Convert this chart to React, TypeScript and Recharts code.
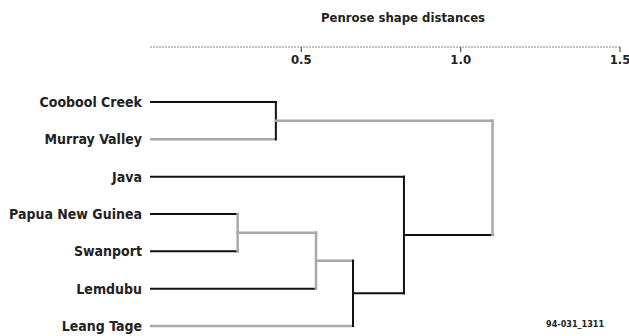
import { LineChart, Line, XAxis, YAxis } from "recharts";

// leaves, top to bottom
const leaves = [
  "Coobool Creek",
  "Murray Valley",
  "Java",
  "Papua New Guinea",
  "Swanport",
  "Lemdubu",
  "Leang Tage",
];

// merges: [left child, right child, distance]; children are leaf names or merge ids ("m0"...)
const merges: [string, string, number][] = [
  ["Coobool Creek", "Murray Valley", 0.42],
  ["Papua New Guinea", "Swanport", 0.3],
  ["m1", "Lemdubu", 0.546],
  ["m2", "Leang Tage", 0.662],
  ["Java", "m3", 0.822],
  ["m0", "m4", 1.1],
];

const xTicks = [0.5, 1.0, 1.5];
const axisStart = 0.025;

// colours: horizontal edge of each node, and vertical bar of each merge
const BLACK = "#111";
const GRAY = "#a9a9a9";
const edgeColor: Record<string, string> = {
  "Coobool Creek": BLACK,
  "Murray Valley": GRAY,
  Java: BLACK,
  "Papua New Guinea": BLACK,
  Swanport: BLACK,
  Lemdubu: BLACK,
  "Leang Tage": GRAY,
  m0: GRAY,
  m1: GRAY,
  m2: GRAY,
  m3: BLACK,
  m4: BLACK,
};
const barColor = [BLACK, GRAY, GRAY, BLACK, BLACK, GRAY];

type Pt = { x: number; y: number };
type Seg = { pts: Pt[]; color: string };

function buildSegments(): Seg[] {
  const pos: Record<string, Pt> = {};
  leaves.forEach((name, i) => (pos[name] = { x: axisStart, y: i }));
  const segs: Seg[] = [];
  merges.forEach(([a, b, d], i) => {
    const pa = pos[a];
    const pb = pos[b];
    segs.push({ pts: [pa, { x: d, y: pa.y }], color: edgeColor[a] });
    segs.push({ pts: [pb, { x: d, y: pb.y }], color: edgeColor[b] });
    segs.push({ pts: [{ x: d, y: pa.y }, { x: d, y: pb.y }], color: barColor[i] });
    pos["m" + i] = { x: d, y: (pa.y + pb.y) / 2 };
  });
  return segs;
}

const segments = buildSegments();

const FONT = "'DejaVu Sans Condensed', sans-serif";

export default function App() {
  return (
    <div style={{ position: "absolute", left: 0, top: 0, width: 629, height: 336, background: "#fff", fontFamily: FONT }}>
      <div
        style={{
          position: "absolute",
          left: 403,
          top: 10,
          transform: "translateX(-50%)",
          fontSize: 13,
          fontWeight: "bold",
          whiteSpace: "nowrap",
          color: "#222",
        }}
      >
        Penrose shape distances
      </div>
      <div
        style={{
          position: "absolute",
          left: 546,
          top: 319,
          fontSize: 9,
          fontWeight: "bold",
          color: "#222",
        }}
      >
        94-031_1311
      </div>
      <LineChart width={629} height={336} margin={{ top: 46, right: 9, bottom: 10, left: 0 }}>
        {/* top axis with ticks and labels hanging below the line */}
        <XAxis
          type="number"
          dataKey="x"
          orientation="top"
          height={1}
          domain={[axisStart, 1.5]}
          allowDataOverflow
          ticks={xTicks}
          tickFormatter={(v: number) => v.toFixed(1)}
          tickSize={-5}
          tickMargin={-12}
          axisLine={{ stroke: "#888", strokeDasharray: "2 1" }}
          tickLine={{ stroke: "#555", strokeWidth: 1.2 }}
          tick={{ fill: "#222", fontSize: 13, fontWeight: "bold", fontFamily: FONT }}
        />
        <YAxis
          type="number"
          dataKey="y"
          domain={[0, leaves.length - 1]}
          reversed
          ticks={leaves.map((_, i) => i)}
          interval={0}
          tickFormatter={(v: number) => leaves[v] ?? ""}
          width={150}
          padding={{ top: 55, bottom: 0 }}
          axisLine={false}
          tickLine={false}
          tick={{ fill: "#222", fontSize: 14, fontWeight: "bold", fontFamily: FONT }}
        />
        {segments.map((s, i) => (
          <Line
            key={i}
            data={s.pts}
            dataKey="y"
            type="linear"
            stroke={s.color}
            strokeWidth={s.color === GRAY ? 2.5 : 2}
            strokeLinecap="square"
            dot={false}
            activeDot={false}
            legendType="none"
            isAnimationActive={false}
          />
        ))}
      </LineChart>
    </div>
  );
}
